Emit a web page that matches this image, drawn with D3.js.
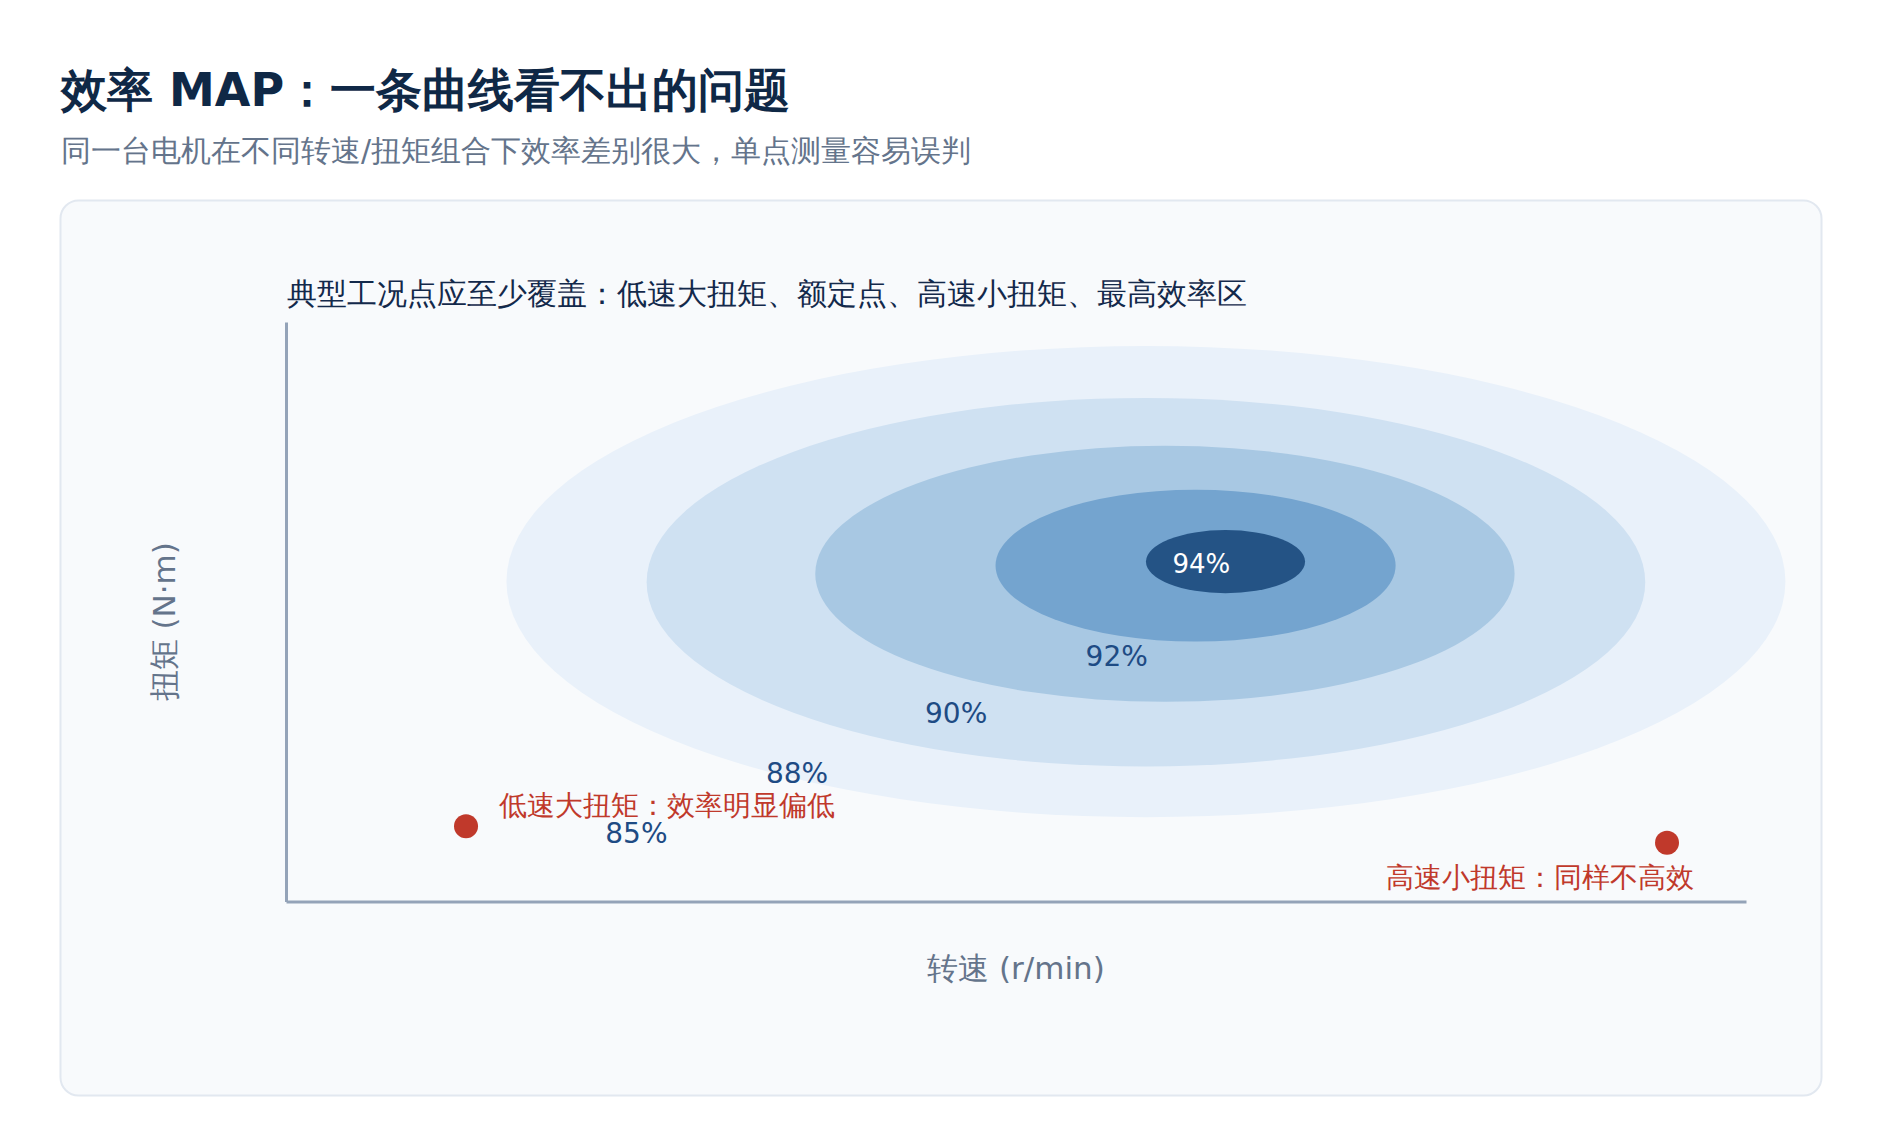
<!DOCTYPE html>
<html lang="en">
  <head>
    <meta charset="UTF-8" />
    <title>效率 MAP</title>
    <style>
        body {
            margin: 0;
            background: #ffffff;
            font-family: "DejaVu Sans", sans-serif;
        }
        .axis path {
            stroke: #94a3b8;
            stroke-width: 3;
        }
        .axis text {
            display: none;
        }
    </style>
    <script src="https://d3js.org/d3.v7.min.js"></script>
  </head>
  <body>
    <div id="chart"></div>
    <script>
        // 效率等高线（从外到内）
        const levels = [85, 88, 90, 92, 94];
        const centerSpeed = [5890, 5890, 6020, 6230, 6435];
        const centerTorque = [110.4, 110.2, 113.1, 115.9, 117.3];
        const radiusSpeed = [4380, 3420, 2395, 1370, 545];
        const radiusTorque = [81.3, 63.6, 44.2, 26.2, 10.9];
        const labelSpeed = [2400, 3500, 4590, 5690, 6270];
        const labelTorque = [23.6, 44.3, 65.0, 84.6, 116.6];

        // 典型工况点
        const pointNames = ["低速大扭矩：效率明显偏低", "高速小扭矩：同样不高效"];
        const pointSpeed = [1233, 9459];
        const pointTorque = [26.0, 20.3];

        const title = "效率 MAP：一条曲线看不出的问题";
        const subtitle = "同一台电机在不同转速/扭矩组合下效率差别很大，单点测量容易误判";
        const plotTitle = "典型工况点应至少覆盖：低速大扭矩、额定点、高速小扭矩、最高效率区";
        const xLabel = "转速 (r/min)";
        const yLabel = "扭矩 (N·m)";

        const width = 1880;
        const height = 1148;
        const fills = ["#e9f1fa", "#cfe1f2", "#a8c8e3", "#74a4cf", "#245385"];

        const svg = d3.select("#chart")
                    .append("svg")
                    .attr("width", width)
                    .attr("height", height);

        svg.append("text")
            .attr("x", 61).attr("y", 106)
            .attr("font-size", 46).attr("font-weight", "bold")
            .attr("fill", "#0f2846")
            .text(title);

        svg.append("text")
            .attr("x", 61).attr("y", 160.5)
            .attr("font-size", 30)
            .attr("fill", "#64748b")
            .text(subtitle);

        svg.append("rect")
            .attr("x", 60.5).attr("y", 200.5)
            .attr("width", 1761).attr("height", 895)
            .attr("rx", 18)
            .attr("fill", "#f8fafc")
            .attr("stroke", "#e2e8f0")
            .attr("stroke-width", 2);

        const x = d3.scaleLinear().domain([0, 10000]).range([286, 1746]);
        const y = d3.scaleLinear().domain([0, 200]).range([901.5, 322]);

        const gEllipse = svg.append("g");
        gEllipse.selectAll("ellipse")
            .data(levels)
            .join("ellipse")
            .attr("cx", (d, i) => x(centerSpeed[i]))
            .attr("cy", (d, i) => y(centerTorque[i]))
            .attr("rx", (d, i) => x(centerSpeed[i] + radiusSpeed[i]) - x(centerSpeed[i]))
            .attr("ry", (d, i) => y(centerTorque[i]) - y(centerTorque[i] + radiusTorque[i]))
            .attr("fill", (d, i) => fills[i]);

        gEllipse.selectAll("text")
            .data(levels)
            .join("text")
            .attr("x", (d, i) => x(labelSpeed[i]))
            .attr("y", (d, i) => y(labelTorque[i]))
            .attr("dy", "0.36em")
            .attr("text-anchor", "middle")
            .attr("font-size", (d, i) => i === levels.length - 1 ? 26 : 28)
            .attr("fill", (d, i) => i === levels.length - 1 ? "#ffffff" : "#1e4b84")
            .text(d => d + "%");

        const axisX = d3.axisBottom(x).ticks(0).tickSizeOuter(0);
        const axisY = d3.axisLeft(y).ticks(0).tickSizeOuter(0);
        svg.append("g")
            .attr("class", "axis")
            .attr("transform", `translate(0,${y(0)})`)
            .call(axisX);
        svg.append("g")
            .attr("class", "axis")
            .attr("transform", `translate(${x(0)},0)`)
            .call(axisY);

        svg.append("text")
            .attr("x", x(0) + 1).attr("y", 303.5)
            .attr("font-size", 30)
            .attr("fill", "#13294b")
            .text(plotTitle);

        const gPoint = svg.append("g");
        gPoint.selectAll("circle")
            .data(pointNames)
            .join("circle")
            .attr("cx", (d, i) => x(pointSpeed[i]))
            .attr("cy", (d, i) => y(pointTorque[i]))
            .attr("r", 12)
            .attr("fill", "#c0392b");

        gPoint.selectAll("text")
            .data(pointNames)
            .join("text")
            .attr("x", (d, i) => x(pointSpeed[i]) + (i === 0 ? 33 : 27))
            .attr("y", (d, i) => y(pointTorque[i]) + (i === 0 ? -11 : 44.5))
            .attr("text-anchor", (d, i) => i === 0 ? "start" : "end")
            .attr("font-size", 28)
            .attr("fill", "#c0392b")
            .text(d => d);

        svg.append("text")
            .attr("x", (x.range()[0] + x.range()[1]) / 2)
            .attr("y", 979)
            .attr("text-anchor", "middle")
            .attr("font-size", 31)
            .attr("fill", "#64748b")
            .text(xLabel);

        svg.append("text")
            .attr("transform", `translate(174.5,${(y.range()[0] + y.range()[1]) / 2 + 10}) rotate(-90)`)
            .attr("text-anchor", "middle")
            .attr("font-size", 31)
            .attr("fill", "#64748b")
            .text(yLabel);
    </script>
  </body>
</html>
